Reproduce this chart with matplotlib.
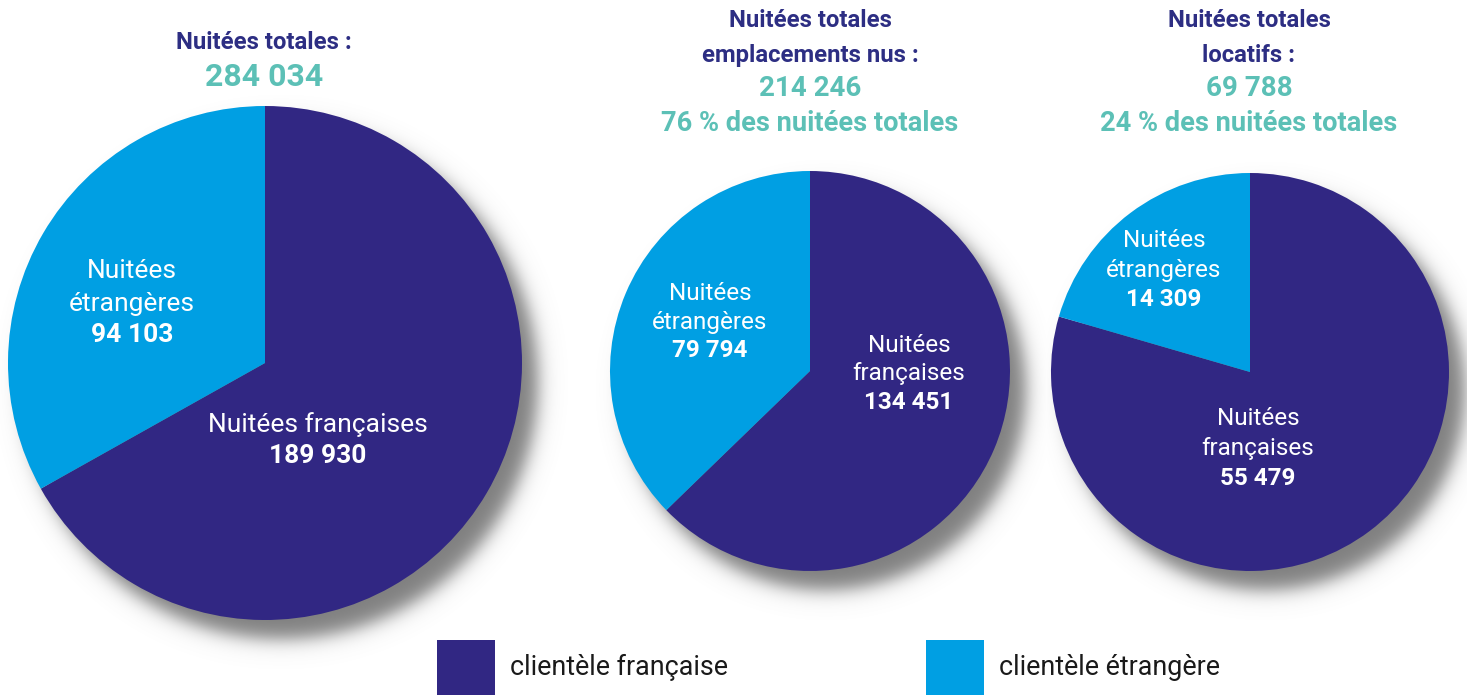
import numpy as np
import matplotlib
matplotlib.use("Agg")
import matplotlib.pyplot as plt
from matplotlib.patches import Rectangle

# ---------------- data ----------------
segment_labels = ["Nuitées françaises", "Nuitées étrangères"]
french = [189930, 134451, 55479]
foreign = [94103, 79794, 14309]
totals = [284034, 214246, 69788]
shares = [None, 76, 24]
title_lines = [["Nuitées totales :"],
               ["Nuitées totales", "emplacements nus :"],
               ["Nuitées totales", "locatifs :"]]
legend_labels = ["clientèle française", "clientèle étrangère"]

# ---------------- style ----------------
NAVY = "#312783"
BLUE = "#009fe3"
TITLE = "#2d2e83"
TEAL = "#5cc0b6"
W, H = 1467, 695

def fmt(n):
    return f"{n:,}".replace(",", " ")

ROBOTO = ["Roboto", "DejaVu Sans"]

fig = plt.figure(figsize=(W / 100, H / 100), dpi=100)
ax = fig.add_axes([0, 0, 1, 1])

def Y(ypx):
    return H - ypx

# pie geometry (pixels, y from top)
centers = [(265, 363), (810, 371), (1250, 372)]
radii = [257, 200, 199]

# drop shadows
xs = np.arange(W) + 0.5
ys = np.arange(H) + 0.5
XX, YY = np.meshgrid(xs, ys)
alpha = np.zeros((H, W))
ox, oy, k = 16, 19, 5.5
for (cx, cy), r in zip(centers, radii):
    d = np.hypot(XX - (cx + ox), YY - (cy + oy))
    a = 1.0 / (1.0 + np.exp(np.clip((d - r) / k, -50, 50)))
    alpha = np.maximum(alpha, a)
img = np.zeros((H, W, 4))
img[..., :3] = 0.5
img[..., 3] = alpha
ax.imshow(img, extent=(0, W, 0, H), origin="upper", zorder=0, interpolation="nearest")

for i, ((cx, cy), r) in enumerate(zip(centers, radii)):
    wedges, _ = ax.pie([french[i], foreign[i]], startangle=90, counterclock=False,
                       colors=[NAVY, BLUE], center=(cx, Y(cy)), radius=r,
                       wedgeprops=dict(linewidth=0, antialiased=True), frame=True)
    for w_ in wedges:
        w_.set_zorder(2)

# ---------------- labels inside the pies ----------------
def lines(x, baselines, texts, weights, size):
    for b, t, wt in zip(baselines, texts, weights):
        ax.text(x, Y(b), t, ha="center", va="baseline", color="white",
                fontsize=size, fontweight=wt, family=ROBOTO, zorder=5)

# pie 1
lines(132, [278, 311, 342], ["Nuitées", "étrangères", fmt(foreign[0])],
      ["normal", "normal", "bold"], 19)
lines(318, [432, 463], [segment_labels[0], fmt(french[0])], ["normal", "bold"], 19)
# pie 2
lines(710, [300, 329, 357], ["Nuitées", "étrangères", fmt(foreign[1])],
      ["normal", "normal", "bold"], 17.5)
lines(909, [352, 380, 409], ["Nuitées", "françaises", fmt(french[1])],
      ["normal", "normal", "bold"], 17.5)
# pie 3
lines(1164, [247, 277, 306], ["Nuitées", "étrangères", fmt(foreign[2])],
      ["normal", "normal", "bold"], 17.5)
lines(1258, [425, 455, 485], ["Nuitées", "françaises", fmt(french[2])],
      ["normal", "normal", "bold"], 17.5)

# ---------------- titles ----------------
ax.text(264, Y(49), title_lines[0][0], ha="center", va="baseline", color=TITLE,
        fontsize=17.2, fontweight="bold", family=ROBOTO)
ax.text(264, Y(86), fmt(totals[0]), ha="center", va="baseline", color=TEAL,
        fontsize=23, fontweight="bold", family=ROBOTO)

for i, cx in [(1, 810), (2, 1249)]:
    ax.text(cx, Y(27), title_lines[i][0], ha="center", va="baseline", color=TITLE,
            fontsize=17.2, fontweight="bold", family=ROBOTO)
    ax.text(cx, Y(62), title_lines[i][1], ha="center", va="baseline", color=TITLE,
            fontsize=17.2, fontweight="bold", family=ROBOTO)
    ax.text(cx, Y(96), fmt(totals[i]), ha="center", va="baseline", color=TEAL,
            fontsize=20, fontweight="bold", family=ROBOTO)
    ax.text(cx, Y(131), f"{shares[i]} % des nuitées totales", ha="center",
            va="baseline", color=TEAL, fontsize=19.6, fontweight="bold", family=ROBOTO)

# ---------------- legend ----------------
for x0, col, lab in [(437, NAVY, legend_labels[0]), (926, BLUE, legend_labels[1])]:
    ax.add_patch(Rectangle((x0, 0), 58, Y(640), facecolor=col, edgecolor="none", zorder=3))
    ax.text(x0 + 73, Y(675), lab, ha="left", va="baseline", color="#1a1a1a",
            fontsize=19.4, family=ROBOTO)

ax.set_xlim(0, W)
ax.set_ylim(0, H)
ax.set_aspect("equal")
ax.axis("off")
fig.savefig("out.png", dpi=100)
